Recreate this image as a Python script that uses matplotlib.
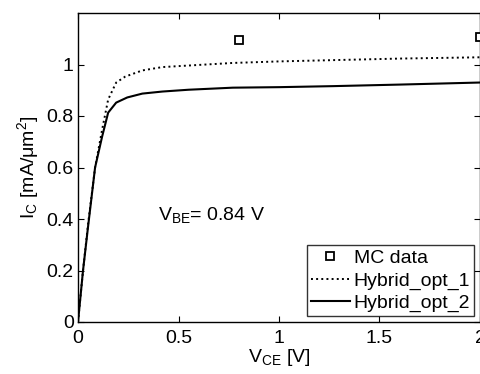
import matplotlib
matplotlib.use('Agg')
import matplotlib.pyplot as plt

plt.rcParams['font.family'] = ['Liberation Sans', 'DejaVu Sans']
plt.rcParams['mathtext.fontset'] = 'custom'
plt.rcParams['mathtext.rm'] = 'Liberation Sans'
plt.rcParams['mathtext.it'] = 'Liberation Sans'

# ============== data ==============
mc_vce = [0.8, 2.0]
mc_ic = [1.097, 1.108]

opt1_vce = [0.0, 0.025, 0.05, 0.085, 0.12, 0.15, 0.19, 0.235, 0.32, 0.42,
            0.55, 0.77, 1.0, 1.27, 1.6, 2.0]
opt1_ic = [0.0, 0.20, 0.38, 0.60, 0.747, 0.864, 0.93, 0.953, 0.977, 0.99,
           0.996, 1.006, 1.012, 1.017, 1.023, 1.028]

opt2_vce = [0.0, 0.025, 0.05, 0.085, 0.12, 0.15, 0.19, 0.245, 0.32, 0.42,
            0.55, 0.77, 1.0, 1.27, 1.6, 2.0]
opt2_ic = [0.0, 0.20, 0.37, 0.60, 0.72, 0.813, 0.852, 0.872, 0.887, 0.895,
           0.902, 0.91, 0.912, 0.916, 0.922, 0.93]

xticks = [0, 0.5, 1, 1.5, 2]
xtick_labels = ['0', '0.5', '1', '1.5', '2']
yticks = [0, 0.2, 0.4, 0.6, 0.8, 1]
ytick_labels = ['0', '0.2', '0.4', '0.6', '0.8', '1']

# ============== plot ==============
fig = plt.figure(figsize=(4.81, 3.74), dpi=100)
ax = fig.add_axes([78 / 481, 52 / 374, 402 / 481, 309 / 374])

ax.plot(mc_vce, mc_ic, linestyle='none', marker='s', markersize=5.5,
        markerfacecolor='white', markeredgecolor='black', markeredgewidth=1.3,
        label='MC data', clip_on=False, zorder=5)
ax.plot(opt1_vce, opt1_ic, color='black', linestyle=':', linewidth=1.4, label='Hybrid_opt_1')
ax.plot(opt2_vce, opt2_ic, color='black', linestyle='-', linewidth=1.5, label='Hybrid_opt_2')

ax.set_xlim(0, 2)
ax.set_ylim(0, 1.2)
ax.set_xticks(xticks)
ax.set_xticklabels(xtick_labels)
ax.set_yticks(yticks)
ax.set_yticklabels(ytick_labels)
ax.tick_params(direction='in', top=True, right=True, labelsize=14, length=4, pad=3)
ax.tick_params(axis='x', pad=6)
for s in ax.spines.values():
    s.set_linewidth(1.0)

ax.set_xlabel('V$_{\\mathrm{CE}}$ [V]', fontsize=14, labelpad=0)
ax.set_ylabel('I$_{\\mathrm{C}}$ [mA/\u03bcm$^{2}$]', fontsize=14, labelpad=4)

ax.text(0.4, 0.415, 'V$_{\\mathrm{BE}}$= 0.84 V', fontsize=14, va='center', ha='left')

leg = ax.legend(loc='lower right', fontsize=14, frameon=True, fancybox=False,
                edgecolor='black', borderpad=0.2, labelspacing=0.25,
                handlelength=2.0, handletextpad=0.2, borderaxespad=0.3)
leg.get_frame().set_linewidth(1.0)

plt.savefig('out.png', dpi=100)
plt.close()
